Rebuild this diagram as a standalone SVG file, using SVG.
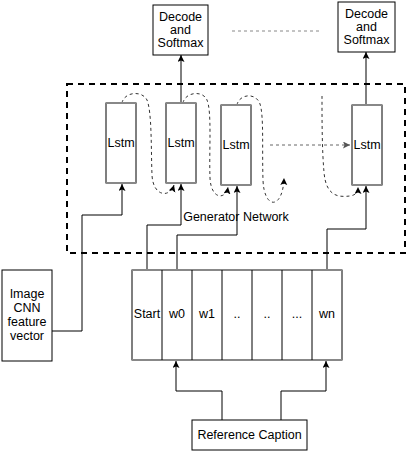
<svg xmlns="http://www.w3.org/2000/svg" width="410" height="453" viewBox="0 0 410 453">
<defs>
<marker id="arr" markerUnits="userSpaceOnUse" markerWidth="8" markerHeight="8" refX="7" refY="3.5" orient="auto">
<path d="M0,0 L7,3.5 L0,7 L1.5,3.5 z" fill="#000"/>
</marker>
<marker id="arrg" markerUnits="userSpaceOnUse" markerWidth="8" markerHeight="8" refX="7" refY="3.5" orient="auto">
<path d="M0,0 L7,3.5 L0,7 L1.5,3.5 z" fill="#555"/>
</marker>
</defs>
<style>
.box{fill:#fff;stroke:#000;stroke-width:1}
.edge{fill:none;stroke:#000;stroke-width:1}
.dot{fill:none;stroke:#333;stroke-width:1;stroke-dasharray:3 3}
.gl{stroke:#888;stroke-width:2}
text{font-family:"Liberation Sans",Arial,sans-serif;font-size:12.5px;fill:#000;text-anchor:middle;dominant-baseline:central}
</style>
<rect width="410" height="453" fill="#fff"/>
<g id="generator-network">
<rect x="67" y="84" width="338" height="169" fill="none" stroke="#000" stroke-width="2" stroke-dasharray="6 5"/>
<text x="236" y="217">Generator Network</text>
</g>
<g id="connectors">
<path class="edge" d="M181,103 L181,55" marker-end="url(#arr)"/>
<path class="edge" d="M366,105 L366,52" marker-end="url(#arr)"/>
<path class="edge" d="M52,331 L82,331 L82,215 L122,215 L122,184" marker-end="url(#arr)"/>
<path class="edge" d="M147,270 L147,225 L181,225 L181,184" marker-end="url(#arr)"/>
<path class="edge" d="M177,270 L177,235 L237,235 L237,186" marker-end="url(#arr)"/>
<path class="edge" d="M327,270 L327,229 L366,229 L366,186" marker-end="url(#arr)"/>
<path class="edge" d="M222,420 L222,391 L176,391 L176,361" marker-end="url(#arr)"/>
<path class="edge" d="M281,420 L281,391 L326,391 L326,361" marker-end="url(#arr)"/>
<path class="dot" d="M122,103 C124,92 142,90 147,100 C152,112 151,150 152,175 C153,197 170,198 174,185" marker-end="url(#arr)"/>
<path class="dot" d="M183,103 C185,92 203,90 207,100 C212,112 209,150 210,178 C211,200 226,200 228,187" marker-end="url(#arr)"/>
<path class="dot" d="M237,105 C239,94 256,92 260,104 C264,116 262,150 263,180 C264,210 283,210 284,178" marker-end="url(#arr)"/>
<path class="dot" d="M322,96 C322,120 322,150 324,172 C326,198 340,197 350,196 C356,195 358,192 358,187" marker-end="url(#arr)"/>
<path d="M270,145 L350,145" fill="none" stroke="#666" stroke-width="1" stroke-dasharray="3 3" marker-end="url(#arrg)"/>
<path d="M232,31 L322,31" fill="none" stroke="#888" stroke-width="1" stroke-dasharray="3 3"/>
</g>
<g id="decode1">
<rect class="box" x="153" y="5" width="55" height="50"/>
<text x="180.5" y="17">Decode</text>
<text x="180.5" y="30">and</text>
<text x="180.5" y="43">Softmax</text>
</g>
<g id="decode2">
<rect class="box" x="338" y="2" width="57" height="50"/>
<text x="366.5" y="14">Decode</text>
<text x="366.5" y="27">and</text>
<text x="366.5" y="40">Softmax</text>
</g>
<g id="lstm1">
<rect class="box" x="106" y="103" width="30" height="80"/>
<line class="gl" x1="106" y1="103" x2="136" y2="103"/>
<line class="gl" x1="106" y1="183" x2="136" y2="183"/>
<text x="121" y="143">Lstm</text>
</g>
<g id="lstm2">
<rect class="box" x="166" y="103" width="30" height="80"/>
<line class="gl" x1="166" y1="103" x2="196" y2="103"/>
<line class="gl" x1="166" y1="183" x2="196" y2="183"/>
<text x="181" y="143">Lstm</text>
</g>
<g id="lstm3">
<rect class="box" x="221" y="105" width="30" height="80"/>
<line class="gl" x1="221" y1="105" x2="251" y2="105"/>
<line class="gl" x1="221" y1="185" x2="251" y2="185"/>
<text x="236" y="145">Lstm</text>
</g>
<g id="lstm4">
<rect class="box" x="352" y="105" width="30" height="80"/>
<line class="gl" x1="352" y1="105" x2="382" y2="105"/>
<line class="gl" x1="352" y1="185" x2="382" y2="185"/>
<text x="367" y="145">Lstm</text>
</g>
<g id="image-cnn">
<rect class="box" x="2" y="270" width="50" height="91"/>
<text x="27" y="294">Image</text>
<text x="27" y="308">CNN</text>
<text x="27" y="322">feature</text>
<text x="27" y="336">vector</text>
</g>
<g id="sequence">
<rect class="box" x="132" y="270" width="210" height="90"/>
<line class="gl" x1="132" y1="270" x2="342" y2="270"/>
<line class="gl" x1="132" y1="360" x2="342" y2="360"/>
<g class="edge">
<line x1="162" y1="270" x2="162" y2="360"/>
<line x1="192" y1="270" x2="192" y2="360"/>
<line x1="222" y1="270" x2="222" y2="360"/>
<line x1="252" y1="270" x2="252" y2="360"/>
<line x1="282" y1="270" x2="282" y2="360"/>
<line x1="312" y1="270" x2="312" y2="360"/>
</g>
<text x="147" y="314">Start</text>
<text x="177" y="314">w0</text>
<text x="207" y="314">w1</text>
<text x="237" y="314">..</text>
<text x="267" y="314">..</text>
<text x="297" y="314">...</text>
<text x="327" y="314">wn</text>
</g>
<g id="reference-caption">
<rect class="box" x="192" y="420" width="115" height="30"/>
<text x="249.5" y="435">Reference Caption</text>
</g>
</svg>
